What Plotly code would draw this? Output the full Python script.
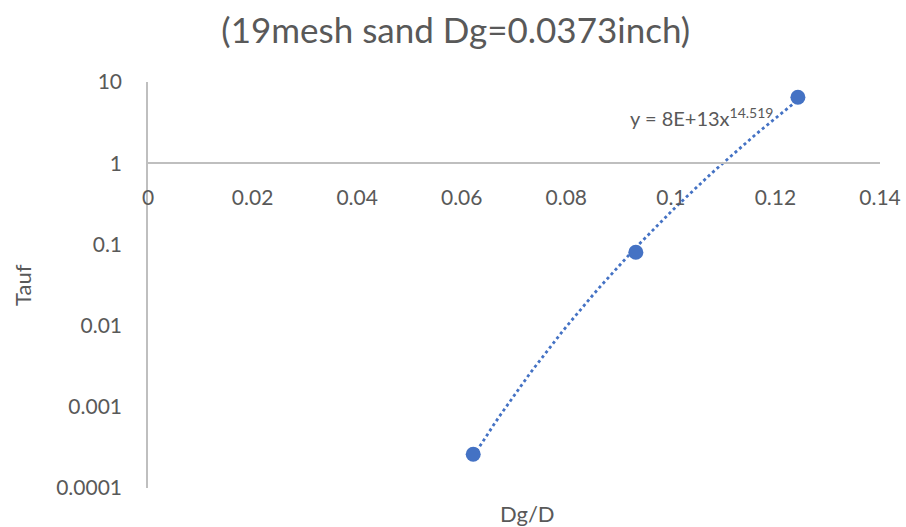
import numpy as np
import plotly.graph_objects as go

# Measured points: relative grain size Dg/D and Tauf
dg_over_d = [0.0622, 0.0933, 0.1243]
tauf = [0.00026, 0.080, 6.5]

y_tick_vals = [10, 1, 0.1, 0.01, 0.001, 0.0001]
y_tick_text = ["10", "1", "0.1", "0.01", "0.001", "0.0001"]
x_tick_vals = [0, 0.02, 0.04, 0.06, 0.08, 0.1, 0.12, 0.14]
x_tick_text = ["0", "0.02", "0.04", "0.06", "0.08", "0.1", "0.12", "0.14"]

title_text = "(19mesh sand Dg=0.0373inch)"
equation_text = "y = 8E+13x<sup>14.519</sup>"

FONT = "Lato, Open Sans, sans-serif"
TEXT = "#595959"
AXIS = "#bfbfbf"
BLUE = "#4472C4"

W, H = 906, 527
L, R, T, B = 148, 26, 82, 39
PW, PH = W - L - R, H - T - B


def px_to_paper(px, py):
    """Convert page pixel coordinates to paper fractions."""
    return (px - L) / PW, (H - B - py) / PH


# Power-law trendline fitted in log-log space
b, log_a = np.polyfit(np.log(dg_over_d), np.log(tauf), 1)
x_fit = np.linspace(min(dg_over_d), max(dg_over_d), 60)
y_fit = np.exp(log_a) * x_fit ** b

fig = go.Figure()
fig.add_trace(go.Scatter(
    x=x_fit, y=y_fit, mode="lines",
    line=dict(color=BLUE, width=2.8, dash="dot"),
    hoverinfo="skip", showlegend=False,
))
fig.add_trace(go.Scatter(
    x=dg_over_d, y=tauf, mode="markers",
    marker=dict(color=BLUE, size=15),
    showlegend=False,
))

xt_x, xt_y = px_to_paper(527, 513)
yt_x, yt_y = px_to_paper(22, 285)

fig.update_layout(
    width=W, height=H,
    margin=dict(l=L, r=R, t=T, b=B, autoexpand=False),
    paper_bgcolor="white", plot_bgcolor="white",
    font=dict(family=FONT, color=TEXT, size=21),
    title=dict(text=title_text, x=0.503, xref="container", xanchor="center",
               y=1 - 31 / H, yref="container", yanchor="middle",
               font=dict(size=35, color=TEXT, family=FONT)),
    xaxis=dict(
        range=[0, 0.14], tickvals=x_tick_vals, ticktext=x_tick_text,
        showgrid=False, zeroline=False, showline=True, linecolor=AXIS, linewidth=1.5,
        anchor="free", position=0.8, automargin=False,
        ticks="", ticklabelstandoff=16,
        tickfont=dict(size=21, color=TEXT, family=FONT),
    ),
    yaxis=dict(
        type="log", range=[-4, 1], tickvals=y_tick_vals, ticktext=y_tick_text,
        showgrid=False, zeroline=False, showline=True, linecolor=AXIS, linewidth=1.5,
        automargin=False,
        ticks="", ticklabelstandoff=20,
        tickfont=dict(size=21, color=TEXT, family=FONT),
    ),
    annotations=[
        dict(text=equation_text, x=0.1059, y=np.log10(3.7), xref="x", yref="y",
             showarrow=False, xanchor="center", yanchor="middle",
             font=dict(size=20, color=TEXT, family=FONT)),
        dict(text="Dg/D", x=xt_x, y=xt_y, xref="paper", yref="paper",
             xanchor="center", yanchor="middle", showarrow=False,
             font=dict(size=22, color=TEXT, family=FONT)),
        dict(text="Tauf", x=yt_x, y=yt_y, xref="paper", yref="paper",
             xanchor="center", yanchor="middle", textangle=-90, showarrow=False,
             font=dict(size=22, color=TEXT, family=FONT)),
    ],
)

fig.write_html("out.html")
